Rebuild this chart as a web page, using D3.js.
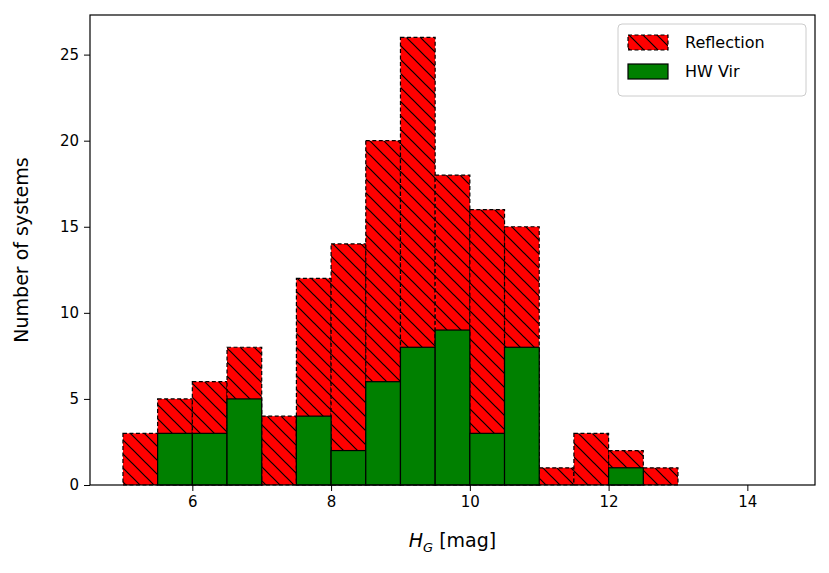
<!DOCTYPE html>
<html><head><meta charset="utf-8">
<script src="https://cdn.jsdelivr.net/npm/d3@7"></script>
<style>body{margin:0;background:#fff}text{font-family:"DejaVu Sans",sans-serif}</style>
</head><body><svg id="chart" width="829" height="573"></svg>
<script>
// bin left edges (width 0.5)
const binStarts = [5,5.5,6,6.5,7,7.5,8,8.5,9,9.5,10,10.5,11,11.5,12,12.5,13,13.5,14]
const reflection = [3,5,6,8,4,12,14,20,26,18,16,15,1,3,2,1,0,0,0]
const hwVir = [0,3,3,5,0,4,2,6,8,9,3,8,0,0,1,0,0,0,0]
const xTicks = [6,8,10,12,14]
const yTicks = [0,5,10,15,20,25]

const margin = { top: 15, right: 14, bottom: 88, left: 90 }
const width = 829 - margin.left - margin.right
const height = 573 - margin.top - margin.bottom

const svg = d3.select("#chart").append("g")
  .attr("transform", `translate(${margin.left},${margin.top})`)

const defs = d3.select("#chart").append("defs")
const pat = defs.append("pattern").attr("id", "hatch")
  .attr("patternUnits", "userSpaceOnUse").attr("width", 14).attr("height", 14)
pat.append("rect").attr("width", 14).attr("height", 14).attr("fill", "red")
pat.append("path").attr("d", "M-1,-1 L15,15 M-8,6 L8,22 M6,-8 L22,8")
  .attr("stroke", "black").attr("stroke-width", 1.2)

const x = d3.scaleLinear().domain([4.525, 14.975]).range([0, width])
const y = d3.scaleLinear().domain([0, 27.3]).range([height, 0])

// Reflection bars
svg.selectAll(".refl").data(binStarts).enter().append("rect")
  .attr("x", (d) => x(d)).attr("y", (d, i) => y(reflection[i]))
  .attr("width", x(5.5) - x(5)).attr("height", (d, i) => height - y(reflection[i]))
  .attr("fill", "url(#hatch)").attr("stroke", "black")
  .attr("stroke-width", 1.2).attr("stroke-dasharray", "4,2.5")

// HW Vir bars
svg.selectAll(".hw").data(binStarts).enter().append("rect")
  .attr("x", (d) => x(d)).attr("y", (d, i) => y(hwVir[i]))
  .attr("width", x(5.5) - x(5)).attr("height", (d, i) => height - y(hwVir[i]))
  .attr("fill", "green").attr("stroke", "black").attr("stroke-width", 1.2)

// Axes
const xa = svg.append("g").attr("transform", `translate(0,${height})`)
  .call(d3.axisBottom(x).tickValues(xTicks).tickSize(6).tickPadding(5))
const ya = svg.append("g").call(d3.axisLeft(y).tickValues(yTicks).tickSize(6).tickPadding(5))
for (const a of [xa, ya]) {
  a.selectAll("text").style("font-size", "15px").attr("fill", "black")
  a.select(".domain").remove()
}
svg.append("rect").attr("width", width).attr("height", height)
  .attr("fill", "none").attr("stroke", "black").attr("stroke-width", 1.2)

// Labels
const xl = svg.append("text").attr("x", width / 2).attr("y", height + 62)
  .attr("text-anchor", "middle").style("font-size", "19px")
xl.append("tspan").attr("font-style", "italic").text("H")
xl.append("tspan").attr("font-style", "italic").attr("font-size", "13px").attr("dy", 5).text("G")
xl.append("tspan").attr("dy", -5).text(" [mag]")
svg.append("text").attr("transform", `translate(-62,${height / 2})rotate(-90)`)
  .attr("text-anchor", "middle").style("font-size", "19px").text("Number of systems")

// Legend
const lg = svg.append("g").attr("transform", `translate(${width - 197},9)`)
lg.append("rect").attr("width", 188).attr("height", 72).attr("rx", 4)
  .attr("fill", "white").attr("stroke", "#ccc")
const items = [["Reflection", "url(#hatch)", "4,2.5"], ["HW Vir", "green", null]]
items.forEach(([name, fill, dash], i) => {
  lg.append("rect").attr("x", 10).attr("y", 11 + i * 29).attr("width", 40).attr("height", 15)
    .attr("fill", fill).attr("stroke", "black").attr("stroke-width", 1.2).attr("stroke-dasharray", dash)
  lg.append("text").attr("x", 67).attr("y", 24 + i * 29).style("font-size", "16px").text(name)
})
</script></body></html>
